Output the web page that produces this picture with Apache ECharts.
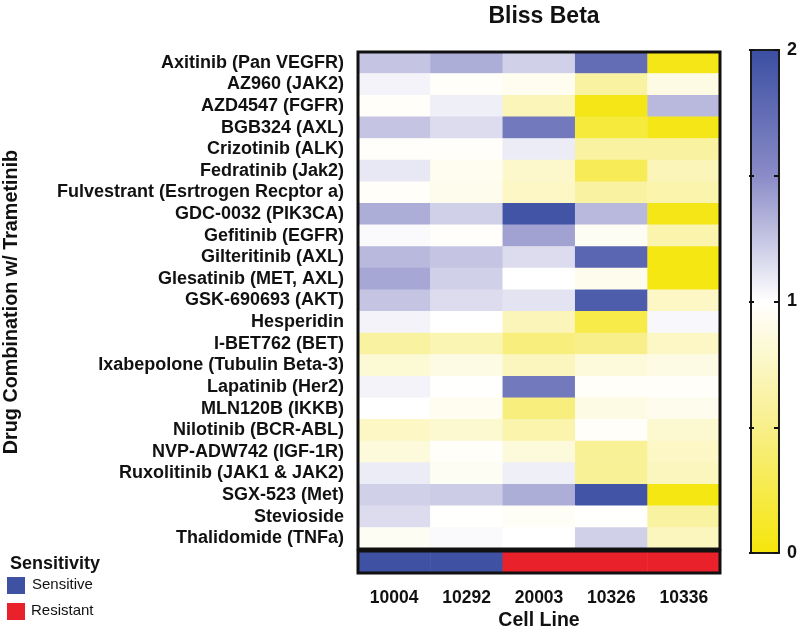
<!DOCTYPE html>
<html>
<head>
<meta charset="utf-8">
<script src="https://cdn.jsdelivr.net/npm/echarts@6/dist/echarts.min.js"></script>
<style>
  html, body { margin: 0; padding: 0; background: #fff; }
  #chart { width: 800px; height: 635px; }
</style>
</head>
<body>
<div id="chart"></div>
<script>
// cell lines (columns) and drug combinations (rows, top to bottom)
var cellLines = ['10004', '10292', '20003', '10326', '10336'];
var drugs = [
  'Axitinib (Pan VEGFR)', 'AZ960 (JAK2)', 'AZD4547 (FGFR)', 'BGB324 (AXL)',
  'Crizotinib (ALK)', 'Fedratinib (Jak2)', 'Fulvestrant (Esrtrogen Recptor a)',
  'GDC-0032 (PIK3CA)', 'Gefitinib (EGFR)', 'Gilteritinib (AXL)',
  'Glesatinib (MET, AXL)', 'GSK-690693 (AKT)', 'Hesperidin', 'I-BET762 (BET)',
  'Ixabepolone (Tubulin Beta-3)', 'Lapatinib (Her2)', 'MLN120B (IKKB)',
  'Nilotinib (BCR-ABL)', 'NVP-ADW742 (IGF-1R)', 'Ruxolitinib (JAK1 & JAK2)',
  'SGX-523 (Met)', 'Stevioside', 'Thalidomide (TNFa)'
];
// bliss beta per drug, one value per cell line (same order as cellLines)
var blissBeta = [
  [1.25, 1.35, 1.20, 1.75, 0.05],
  [1.05, 0.97, 0.93, 0.60, 0.88],
  [0.97, 1.07, 0.70, 0.05, 1.30],
  [1.25, 1.15, 1.65, 0.20, 0.05],
  [0.98, 0.98, 1.08, 0.60, 0.60],
  [1.10, 0.93, 0.78, 0.30, 0.70],
  [0.97, 0.92, 0.75, 0.60, 0.65],
  [1.35, 1.20, 1.95, 1.30, 0.05],
  [1.02, 0.98, 1.40, 0.95, 0.65],
  [1.30, 1.25, 1.15, 1.80, 0.03],
  [1.38, 1.20, 1.00, 0.92, 0.03],
  [1.25, 1.15, 1.12, 1.88, 0.75],
  [1.05, 1.00, 0.70, 0.25, 1.03],
  [0.60, 0.68, 0.45, 0.50, 0.75],
  [0.82, 0.88, 0.72, 0.85, 0.88],
  [1.05, 0.99, 1.65, 0.97, 0.97],
  [1.00, 0.93, 0.45, 0.88, 0.92],
  [0.75, 0.80, 0.65, 0.97, 0.80],
  [0.85, 0.97, 0.85, 0.55, 0.75],
  [1.08, 0.95, 1.07, 0.55, 0.72],
  [1.20, 1.22, 1.35, 1.95, 0.03],
  [1.15, 0.99, 0.96, 0.99, 0.60],
  [0.95, 1.02, 1.00, 1.20, 0.72]
];
// 0 = sensitive, 1 = resistant
var sensitivity = [0, 0, 1, 1, 1];
var scaleTicks = [0, 1, 2];

var FONT = 'Liberation Sans, Arial, sans-serif';
var BLUE = '#3f51a3', RED = '#e8212b';
var scaleColors = ['#f5e60a', '#f8ef8a', '#ffffff', '#8a8bc7', '#3a4ea2'];

var heatData = [];
blissBeta.forEach(function (row, r) {
  row.forEach(function (v, c) { heatData.push([c, r, v]); });
});
var stripData = sensitivity.map(function (s, c) { return [c, 0, s]; });

// colour bar fill, top (2) to bottom (0)
var barFill = new echarts.graphic.LinearGradient(0, 0, 0, 1, scaleColors.slice().reverse().map(function (c, i, a) {
  return { offset: i / (a.length - 1), color: c };
}));

var myChart = echarts.init(document.getElementById('chart'));
myChart.setOption({
  animation: false,
  title: {
    text: 'Bliss Beta', left: 539, top: 0, textAlign: 'center',
    textStyle: { fontFamily: FONT, fontSize: 23, fontWeight: 'bold', color: '#111' }
  },
  grid: [
    { left: 358, top: 52, width: 362, height: 497, show: true, borderColor: '#111', borderWidth: 3, backgroundColor: 'transparent', z: 10 },
    { left: 358, top: 551, width: 362, height: 22, show: true, borderColor: '#111', borderWidth: 3, backgroundColor: 'transparent', z: 10 },
    { left: 751, top: 50, width: 30, height: 503, show: true, borderColor: '#1a1a1a', borderWidth: 2, backgroundColor: barFill, z: 0 }
  ],
  xAxis: [
    { gridIndex: 0, type: 'category', data: cellLines, show: false },
    {
      gridIndex: 1, type: 'category', data: cellLines,
      axisLine: { show: false },
      axisTick: { alignWithLabel: true, interval: 0, length: 6, lineStyle: { color: '#111', width: 3 } },
      axisLabel: { interval: 0, margin: 16, fontFamily: FONT, fontSize: 17.5, fontWeight: 'bold', color: '#111' },
      name: 'Cell Line', nameLocation: 'middle', nameGap: 38,
      nameTextStyle: { fontFamily: FONT, fontSize: 19.5, fontWeight: 'bold', color: '#111' }
    },
    { gridIndex: 2, type: 'value', min: 0, max: 1, show: false }
  ],
  yAxis: [
    {
      gridIndex: 0, type: 'category', data: drugs, inverse: true,
      axisLine: { show: false },
      axisTick: { alignWithLabel: true, interval: 0, length: 8, lineStyle: { color: '#111', width: 2 } },
      axisLabel: { interval: 0, margin: 14, fontFamily: FONT, fontSize: 18, fontWeight: 'bold', color: '#111' }
    },
    { gridIndex: 1, type: 'category', data: ['s'], show: false },
    {
      gridIndex: 2, type: 'value', min: 0, max: 2, interval: 0.5, position: 'right', zlevel: 1,
      axisLine: { show: false, onZero: false }, splitLine: { show: false },
      axisTick: { inside: true, length: 5, lineStyle: { color: '#111', width: 2 } },
      axisLabel: {
        margin: 8, fontFamily: FONT, fontSize: 18, fontWeight: 'bold', color: '#111',
        formatter: function (v) { return scaleTicks.indexOf(v) >= 0 ? String(v) : ''; }
      }
    },
    {
      // inner ticks on the left edge of the colour bar
      gridIndex: 2, type: 'value', min: 0, max: 2, interval: 0.5, position: 'right', offset: -30, zlevel: 1,
      axisLine: { show: false, onZero: false }, splitLine: { show: false }, axisLabel: { show: false },
      axisTick: { inside: false, length: 5, lineStyle: { color: '#111', width: 2 } }
    }
  ],
  visualMap: [
    {
      type: 'continuous', seriesIndex: 0, min: 0, max: 2, show: false,
      inRange: { color: scaleColors }
    },
    {
      type: 'piecewise', seriesIndex: 1, show: false,
      pieces: [{ value: 0, color: BLUE }, { value: 1, color: RED }]
    }
  ],
  series: [
    { type: 'heatmap', xAxisIndex: 0, yAxisIndex: 0, data: heatData, itemStyle: { borderWidth: 0 } },
    { type: 'heatmap', xAxisIndex: 1, yAxisIndex: 1, data: stripData, itemStyle: { borderWidth: 0 } }
  ],
  graphic: [
    {
      type: 'text', x: 12, y: 302, rotation: Math.PI / 2,
      style: { text: 'Drug Combination w/ Trametinib', x: 0, y: 0, align: 'center', verticalAlign: 'middle',
               font: 'bold 19.8px ' + FONT, fill: '#111' }
    },
    { type: 'text', x: 10, y: 555, style: { text: 'Sensitivity', font: 'bold 18px ' + FONT, fill: '#111' } },
    { type: 'rect', shape: { x: 7, y: 577, width: 18, height: 17 }, style: { fill: BLUE } },
    { type: 'text', x: 32, y: 577, style: { text: 'Sensitive', font: '15px ' + FONT, fill: '#111' } },
    { type: 'rect', shape: { x: 7, y: 603, width: 18, height: 17 }, style: { fill: RED } },
    { type: 'text', x: 31, y: 603, style: { text: 'Resistant', font: '15px ' + FONT, fill: '#111' } }
  ]
});
</script>
</body>
</html>
